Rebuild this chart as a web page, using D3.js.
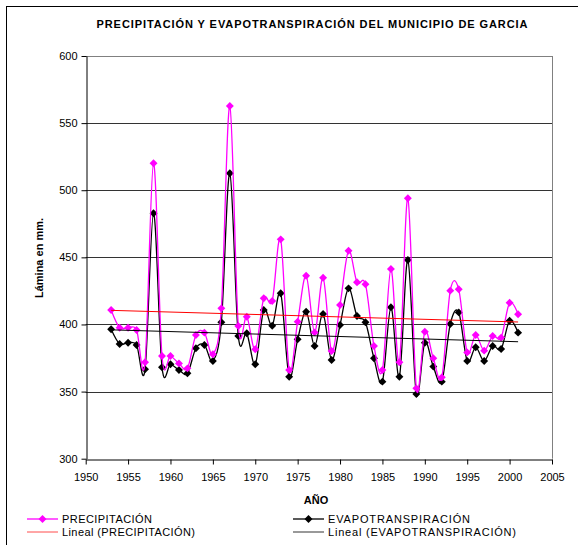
<!doctype html>
<html>
<head>
<meta charset="utf-8">
<script src="https://cdn.jsdelivr.net/npm/d3@7"></script>
<style>
    body { margin: 0; background: #fff; }
    text { font-family: "Liberation Sans", Arial, sans-serif; }
</style>
</head>
<body>
<svg width="578" height="545"></svg>
<script>
    // data
    var years = [1953, 1954, 1955, 1956, 1957, 1958, 1959, 1960, 1961, 1962,
                 1963, 1964, 1965, 1966, 1967, 1968, 1969, 1970, 1971, 1972,
                 1973, 1974, 1975, 1976, 1977, 1978, 1979, 1980, 1981, 1982,
                 1983, 1984, 1985, 1986, 1987, 1988, 1989, 1990, 1991, 1992,
                 1993, 1994, 1995, 1996, 1997, 1998, 1999, 2000, 2001];
    var precipitacion = [410.8, 397.6, 397.6, 395.9, 371.8, 520.1, 376.5, 376.5, 371, 367.3,
                         392.1, 393.9, 377.8, 412, 562.7, 398.9, 405.8, 381.5, 419.5, 417.5,
                         463.4, 366.1, 402.1, 436.3, 394.1, 434.8, 380.2, 414.5, 454.9, 431.4,
                         429.9, 384, 366.1, 441.3, 371.8, 494, 352.4, 394.6, 374.8, 360.6,
                         425.2, 426.2, 379.2, 392.1, 380.5, 391.4, 390.2, 416.2, 407.6];
    var evapotranspiracion = [396.4, 385.5, 386.4, 384.7, 366.6, 482.8, 368.1, 370.3, 366.1, 363.6,
                              382.3, 384.7, 372.8, 401.6, 512.6, 391.4, 393.4, 370.3, 410.8, 399.1,
                              423.2, 361.1, 388.9, 409.5, 384, 407.8, 373.5, 399.6, 426.9, 406.3,
                              401.6, 374.8, 357.4, 412.8, 361.1, 448, 348.2, 386.4, 368.6, 357.4,
                              400.3, 409, 372.8, 383, 372.8, 384, 381.7, 402.8, 393.9];
    var xTicks = [1950, 1955, 1960, 1965, 1970, 1975, 1980, 1985, 1990, 1995, 2000, 2005];
    var yTicks = [300, 350, 400, 450, 500, 550, 600];

    var svg = d3.select("svg");
    var plotLeft = 85.7, plotRight = 552, plotTop = 56, plotBottom = 458.7;

    var x = d3.scaleLinear().domain([1950, 2005]).range([plotLeft, plotRight]);
    var y = d3.scaleLinear().domain([300, 600]).range([plotBottom, plotTop]);

    // outer frame
    svg.append("rect")
       .attr("x", 6.5).attr("y", 6.5)
       .attr("width", 700).attr("height", 700)
       .attr("fill", "none").attr("stroke", "#000");

    svg.append("text")
       .attr("x", 312).attr("y", 28)
       .attr("text-anchor", "middle")
       .attr("font-size", "11px").attr("font-weight", "bold")
       .attr("textLength", 431)
       .text("PRECIPITACIÓN Y EVAPOTRANSPIRACIÓN DEL MUNICIPIO DE GARCIA");

    // grid lines
    svg.append("g").selectAll("line")
       .data(yTicks.slice(1))
       .enter().append("line")
       .attr("x1", plotLeft).attr("x2", plotRight)
       .attr("y1", function(d) { return Math.round(y(d)) + 0.5; })
       .attr("y2", function(d) { return Math.round(y(d)) + 0.5; })
       .attr("stroke", function(d) { return d == 600 ? "#808080" : "#333"; });

    svg.append("line")
       .attr("x1", Math.round(plotRight) + 0.5).attr("x2", Math.round(plotRight) + 0.5)
       .attr("y1", plotTop).attr("y2", plotBottom)
       .attr("stroke", "#808080");

    var gx = svg.append("g")
       .attr("transform", "translate(0," + (Math.round(plotBottom) + 0.5) + ")")
       .call(d3.axisBottom(x).tickValues(xTicks).tickFormat(d3.format("d")).tickSize(5).tickSizeOuter(0));
    var gy = svg.append("g")
       .attr("transform", "translate(" + (Math.round(plotLeft) + 0.5) + ",0)")
       .call(d3.axisLeft(y).tickValues(yTicks).tickSize(5).tickSizeOuter(0));
    [gx, gy].forEach(function(g) {
        g.select(".domain").attr("stroke", "#000");
        g.selectAll(".tick line").attr("stroke", "#000");
        g.selectAll(".tick text")
         .attr("font-family", "Liberation Sans, Arial, sans-serif")
         .attr("font-size", "11px").attr("fill", "#000");
    });
    gx.selectAll(".tick text").attr("dy", "1.25em");
    gy.selectAll(".tick text").attr("x", -9);

    svg.append("text")
       .attr("transform", "translate(43,258) rotate(-90)")
       .attr("text-anchor", "middle")
       .attr("font-size", "11px").attr("font-weight", "bold")
       .text("Lámina en mm.");

    svg.append("text")
       .attr("x", 316).attr("y", 504)
       .attr("text-anchor", "middle")
       .attr("font-size", "11px").attr("font-weight", "bold")
       .text("AÑO");

    // linear trend (least squares)
    function trend(vals) {
        var mx = d3.mean(years), my = d3.mean(vals);
        var num = d3.sum(years, function(t, i) { return (t - mx) * (vals[i] - my); });
        var den = d3.sum(years, function(t) { return (t - mx) * (t - mx); });
        var b = num / den, a = my - b * mx;
        var t0 = years[0], t1 = years[years.length - 1];
        return [[t0, a + b * t0], [t1, a + b * t1]];
    }

    var series = [
        { name: "PRECIPITACIÓN", values: precipitacion, color: "#FF00FF", trendColor: "#FF0000",
          nameWidth: 90, trendWidth: 133 },
        { name: "EVAPOTRANSPIRACIÓN", values: evapotranspiracion, color: "#000000", trendColor: "#000000",
          nameWidth: 142, trendWidth: 188 }
    ];

    var line = d3.line()
        .x(function(d) { return x(d[0]); })
        .y(function(d) { return y(d[1]); })
        .curve(d3.curveCatmullRom.alpha(0));
    var straight = d3.line()
        .x(function(d) { return x(d[0]); })
        .y(function(d) { return y(d[1]); });

    var diamond = d3.symbol().type(d3.symbolDiamond2).size(40);

    series.slice().reverse().forEach(function(s) {
        var pts = years.map(function(t, i) { return [t, s.values[i]]; });
        svg.append("path")
           .attr("d", line(pts))
           .attr("fill", "none")
           .attr("stroke", s.color)
           .attr("stroke-width", 1.3);
        svg.append("g").selectAll("path")
           .data(pts)
           .enter().append("path")
           .attr("d", diamond)
           .attr("transform", function(d) { return "translate(" + x(d[0]) + "," + y(d[1]) + ")"; })
           .attr("fill", s.color);
    });

    series.forEach(function(s) {
        svg.append("path")
           .attr("d", straight(trend(s.values)))
           .attr("fill", "none")
           .attr("stroke", s.trendColor)
           .attr("stroke-width", 1);
    });

    // legend
    var legendPos = [[27, 519], [293, 519]];
    series.forEach(function(s, i) {
        var lx = legendPos[i][0], ly = legendPos[i][1];
        var g = svg.append("g");
        g.append("line")
         .attr("x1", lx).attr("x2", lx + 31)
         .attr("y1", ly).attr("y2", ly)
         .attr("stroke", s.color).attr("stroke-width", 1.3);
        g.append("path")
         .attr("d", diamond)
         .attr("transform", "translate(" + (lx + 15.5) + "," + ly + ")")
         .attr("fill", s.color);
        g.append("text")
         .attr("x", lx + 35).attr("y", ly + 4)
         .attr("font-size", "11px")
         .attr("textLength", s.nameWidth)
         .text(s.name);
        g.append("line")
         .attr("x1", lx).attr("x2", lx + 31)
         .attr("y1", ly + 13).attr("y2", ly + 13)
         .attr("stroke", s.trendColor).attr("stroke-width", 1)
         .attr("stroke-opacity", i == 0 ? 0.7 : 0.8);
        g.append("text")
         .attr("x", lx + 35).attr("y", ly + 17)
         .attr("font-size", "11px")
         .attr("textLength", s.trendWidth)
         .text("Lineal (" + s.name + ")");
    });
</script>
</body>
</html>
